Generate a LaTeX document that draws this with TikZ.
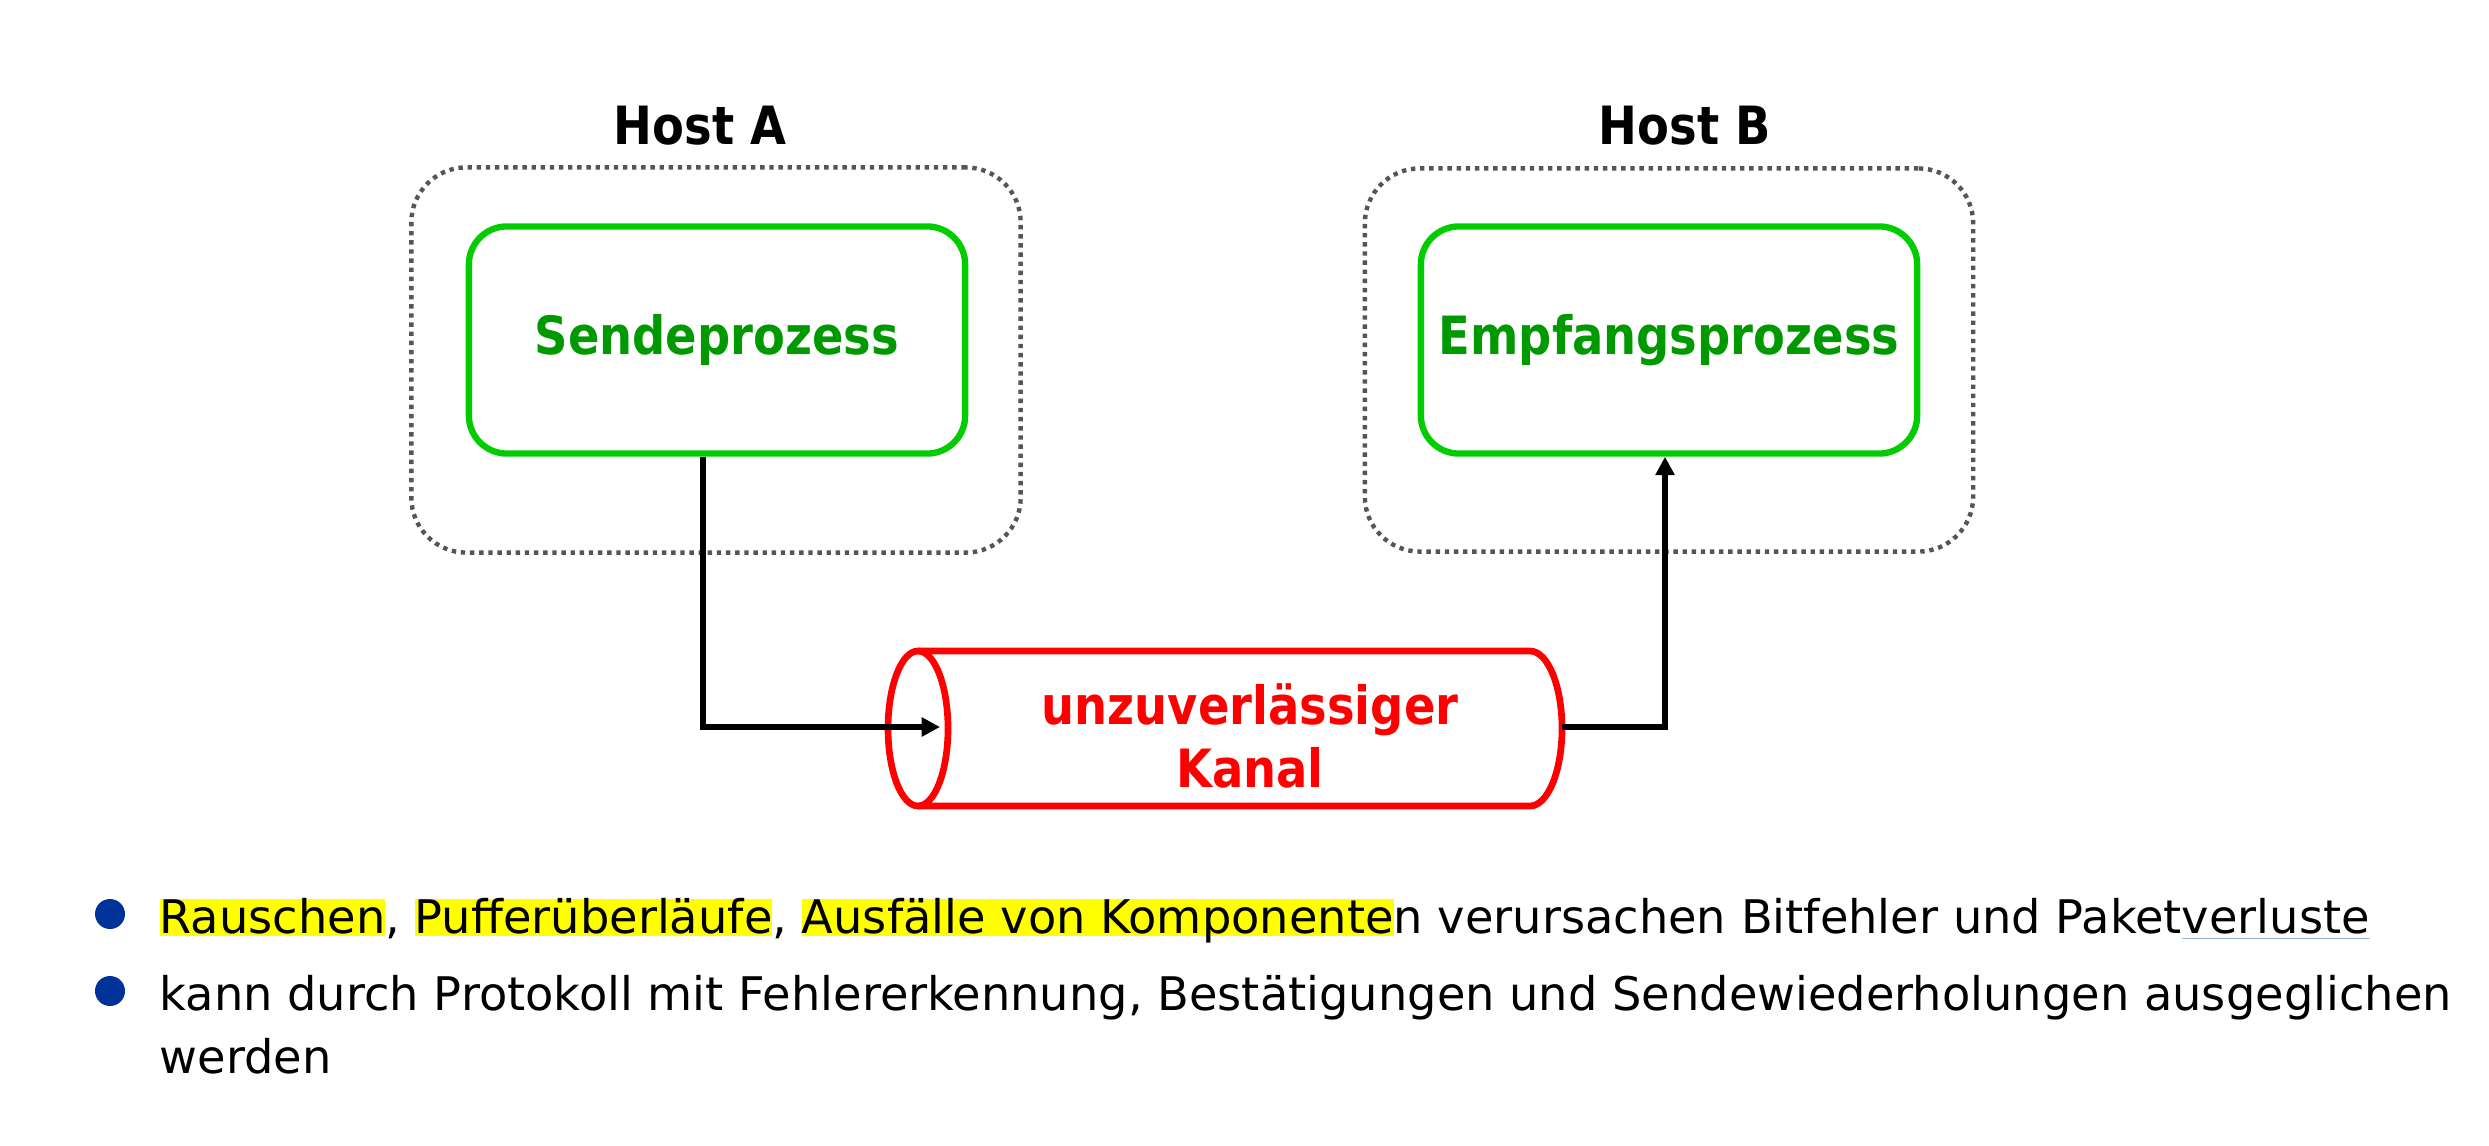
\documentclass[tikz,border=0pt]{standalone}
\usepackage{fontspec}
\setmainfont{DejaVu Sans}[BoldFeatures={FakeStretch=0.88}]
\usetikzlibrary{arrows.meta,positioning}
\definecolor{boxgreen}{HTML}{00CC00}
\definecolor{textgreen}{HTML}{009900}
\definecolor{bulletblue}{HTML}{003399}
\definecolor{hlyellow}{HTML}{FFFF00}
\definecolor{tagblue}{HTML}{9BB7D4}
\definecolor{dotgray}{HTML}{555555}
\newcommand\hlt[1]{{\sbox0{#1}\rlap{\color{hlyellow}\rule[-0.06em]{\wd0}{0.8em}}#1}}
\newcommand\tagline[1]{{\sbox0{#1}\rlap{\color{tagblue}\rule[-0.14em]{\wd0}{0.04em}}#1}}

\begin{document}
\begin{tikzpicture}[x=0.01cm,y=-0.01cm,>={Triangle[length=5.2pt,width=5.2pt]},
  host/.style={draw=dotgray,line width=1.25pt,dash pattern=on 1.25pt off 1.35pt,rounded corners=0.55cm},
  hostlabel/.style={anchor=base,inner sep=0,font=\bfseries\fontsize{15}{17}\selectfont},
  proc/.style={draw=boxgreen,line width=1.8pt,rounded corners=0.38cm,minimum width=4.96cm,minimum height=2.27cm,text=textgreen,font=\bfseries\fontsize{15}{17}\selectfont},
  conn/.style={line width=1.5pt},
  bullet/.style={circle,fill=bulletblue,minimum size=0.3cm,inner sep=0},
  item/.style={anchor=base west,align=left,inner sep=0,font=\fontsize{13.17}{17.9}\selectfont}]
\useasboundingbox (0,0) rectangle (2489,1146);
% hosts
\node[host,minimum width=6.09cm,minimum height=3.85cm] (hostA) at (716,360) {};
\node[host,minimum width=6.08cm,minimum height=3.83cm] (hostB) at (1669,360) {};
\node[hostlabel] (labelA) at (700,145) {Host A};
\node[hostlabel] (labelB) at (1685,145) {Host B};
\node[proc] (send) at (717,340) {Sendeprozess};
\node[proc] (empf) at (1669,340) {Empfangsprozess};
% channel
\draw[red,line width=1.9pt] (918,651) -- (1530,651) arc[start angle=-90,end angle=90,x radius=32,y radius=77.5] -- (918,806);
\draw[red,line width=1.9pt] (918,728.5) ellipse[x radius=30,y radius=77.5];
\node[text=red,align=center,font=\bfseries\fontsize{15}{17.9}\selectfont] (kanal) at (1250,736) {unzuverlässiger\\Kanal};
\coordinate (kin) at (940,727);
\coordinate (kout) at (1562,727);
\draw[conn,->] ([xshift=-0.14cm]send.south) |- (kin);
\draw[conn,->] (kout) -| ([xshift=-0.04cm]empf.south);
% bullets
\node[bullet] (b1) at (110,914) {};
\node[item] (t1) at (159,933) {\hlt{Rauschen}, \hlt{Pufferüberläufe}, \hlt{Ausfälle von Komponente}n verursachen Bitfehler und Paket\tagline{verluste}};
\node[bullet] (b2) at (110,991) {};
\node[item] (t2) at (159,1073) {kann durch Protokoll mit Fehlererkennung, Bestätigungen und Sendewiederholungen ausgeglichen\\werden};
\end{tikzpicture}
\end{document}
